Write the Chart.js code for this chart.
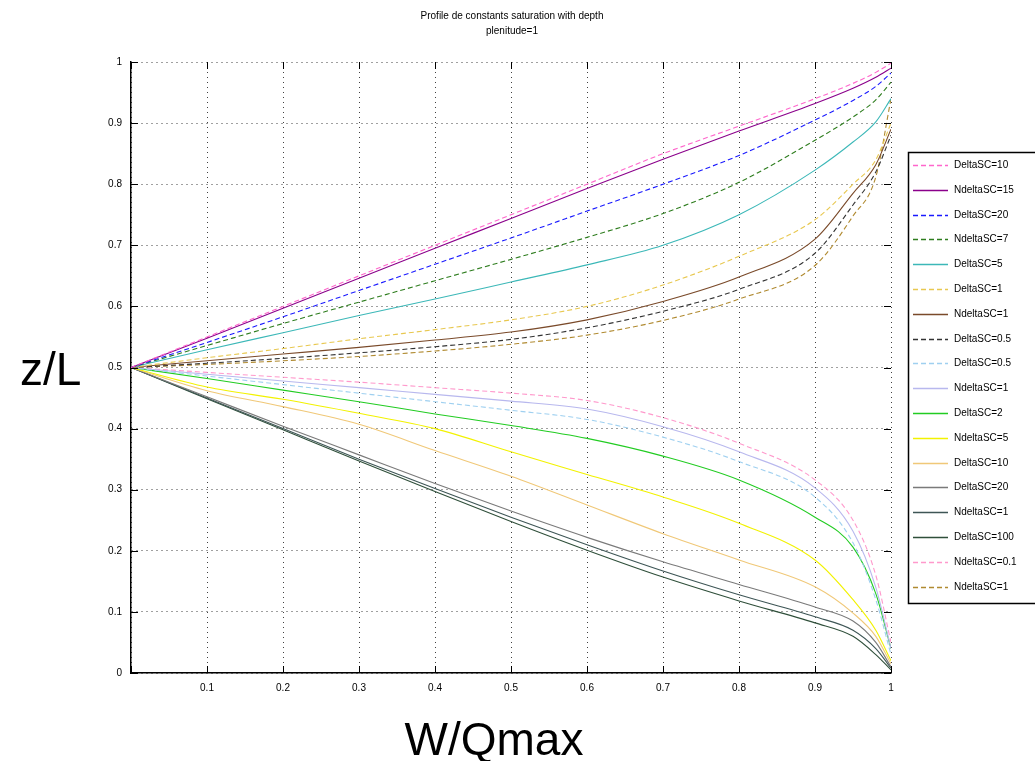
<!DOCTYPE html>
<html>
<head>
<meta charset="utf-8">
<script src="https://cdn.jsdelivr.net/npm/chart.js@4.4.0/dist/chart.umd.min.js"></script>
<style>
html, body { margin: 0; padding: 0; background: #fff; }
#wrap { position: relative; width: 1035px; height: 761px; }
</style>
</head>
<body>
<div id="wrap"><canvas id="chart" width="1035" height="761"></canvas></div>
<script>
// values, x = W/Qmax
var xValues = [0, 0.1, 0.2, 0.3, 0.4, 0.5, 0.6, 0.7, 0.8, 0.9, 0.95, 0.98, 1];

var titleLines = ['Profile de constants saturation with depth', 'plenitude=1'];

var seriesNames = [
    'DeltaSC=10', 'NdeltaSC=15', 'DeltaSC=20', 'NdeltaSC=7', 'DeltaSC=5', 'DeltaSC=1',
    'NdeltaSC=1', 'DeltaSC=0.5', 'DeltaSC=0.5', 'NdeltaSC=1', 'DeltaSC=2', 'NdeltaSC=5',
    'DeltaSC=10', 'DeltaSC=20', 'NdeltaSC=1', 'DeltaSC=100', 'NdeltaSC=0.1', 'NdeltaSC=1'
];
var seriesColors = [
    '#ff66cc', '#8b008b', '#1a1aff', '#2e7d1e', '#3cb8b8', '#e8c850',
    '#7a4a2a', '#333333', '#9fd0f0', '#b8b8ee', '#22cc22', '#f2f200',
    '#f0c878', '#7a7a7a', '#3e5656', '#2f4f3a', '#ff99cc', '#b08a30'
];
var seriesDashed = [true, false, true, true, false, true,
    false, true, true, false, false, false,
    false, false, false, false, true, true];

// upper family
var s01 = [0.5, 0.55, 0.6, 0.65, 0.7, 0.75, 0.8, 0.85, 0.895, 0.94, 0.965, 0.983, 0.998];
var s02 = [0.5, 0.548, 0.597, 0.646, 0.695, 0.744, 0.793, 0.841, 0.887, 0.932, 0.957, 0.975, 0.99];
var s03 = [0.5, 0.541, 0.583, 0.626, 0.669, 0.712, 0.756, 0.8, 0.847, 0.905, 0.937, 0.96, 0.982];
var s04 = [0.5, 0.536, 0.572, 0.607, 0.642, 0.677, 0.713, 0.752, 0.803, 0.872, 0.91, 0.938, 0.967];
var s05 = [0.5, 0.529, 0.557, 0.585, 0.612, 0.64, 0.668, 0.7, 0.75, 0.823, 0.869, 0.902, 0.94];
var s06 = [0.5, 0.516, 0.531, 0.547, 0.562, 0.578, 0.6, 0.635, 0.682, 0.742, 0.8, 0.84, 0.9];
var s07 = [0.5, 0.511, 0.522, 0.533, 0.545, 0.558, 0.578, 0.608, 0.648, 0.71, 0.785, 0.832, 0.89];
var s08 = [0.5, 0.507, 0.515, 0.524, 0.534, 0.546, 0.565, 0.592, 0.628, 0.687, 0.766, 0.82, 0.88];
// lower family
var s09 = [0.5, 0.486, 0.472, 0.458, 0.444, 0.43, 0.415, 0.386, 0.346, 0.288, 0.213, 0.12, 0.03];
var s10 = [0.5, 0.489, 0.478, 0.467, 0.456, 0.445, 0.432, 0.403, 0.362, 0.303, 0.232, 0.14, 0.04];
var s11 = [0.5, 0.482, 0.463, 0.444, 0.424, 0.405, 0.384, 0.355, 0.316, 0.255, 0.206, 0.13, 0.04];
var s12 = [0.5, 0.468, 0.448, 0.425, 0.4, 0.362, 0.325, 0.288, 0.245, 0.185, 0.12, 0.07, 0.02];
var s13 = [0.5, 0.462, 0.436, 0.407, 0.364, 0.322, 0.275, 0.228, 0.185, 0.141, 0.098, 0.06, 0.015];
var s14 = [0.5, 0.452, 0.404, 0.357, 0.31, 0.265, 0.222, 0.182, 0.145, 0.108, 0.085, 0.05, 0.01];
var s15 = [0.5, 0.45, 0.4, 0.35, 0.302, 0.255, 0.21, 0.167, 0.128, 0.092, 0.07, 0.04, 0.008];
var s16 = [0.5, 0.449, 0.398, 0.347, 0.297, 0.248, 0.201, 0.157, 0.118, 0.082, 0.06, 0.03, 0.005];
var s17 = [0.5, 0.492, 0.484, 0.476, 0.467, 0.458, 0.446, 0.418, 0.376, 0.316, 0.25, 0.16, 0.05];
var s18 = [0.5, 0.505, 0.511, 0.518, 0.527, 0.538, 0.553, 0.577, 0.612, 0.667, 0.748, 0.812, 0.94];

var seriesValues = [s01, s02, s03, s04, s05, s06, s07, s08, s09,
    s10, s11, s12, s13, s14, s15, s16, s17, s18];

var datasets = [];
for (var i = 0; i < seriesValues.length; i++) {
    var pts = [];
    for (var j = 0; j < xValues.length; j++) {
        pts.push({ x: xValues[j], y: seriesValues[i][j] });
    }
    datasets.push({
        label: seriesNames[i],
        data: pts,
        borderColor: seriesColors[i],
        borderWidth: 1.1,
        borderDash: seriesDashed[i] ? [5, 3] : [],
        pointRadius: 0,
        fill: false,
        cubicInterpolationMode: 'monotone'
    });
}

function fmtTick(v) {
    return String(Math.round(v * 10) / 10);
}

// matlab-ish decorations: inward ticks, title, big axis names, boxed legend
var decor = {
    id: 'decor',
    afterDraw: function(chart) {
        var ctx = chart.ctx, a = chart.chartArea;
        var xs = chart.scales.x, ys = chart.scales.y;
        ctx.save();

        ctx.strokeStyle = '#000';
        ctx.lineWidth = 1;
        ctx.beginPath();
        xs.ticks.forEach(function(t) {
            var px = Math.round(xs.getPixelForValue(t.value)) + 0.5;
            ctx.moveTo(px, a.bottom); ctx.lineTo(px, a.bottom - 7);
            ctx.moveTo(px, a.top); ctx.lineTo(px, a.top + 7);
        });
        ys.ticks.forEach(function(t) {
            var py = Math.round(ys.getPixelForValue(t.value)) + 0.5;
            ctx.moveTo(a.left, py); ctx.lineTo(a.left + 7, py);
            ctx.moveTo(a.right, py); ctx.lineTo(a.right - 7, py);
        });
        ctx.stroke();

        ctx.fillStyle = '#000';
        ctx.font = '10px "Liberation Sans", Arial, sans-serif';
        ctx.textAlign = 'center';
        ctx.textBaseline = 'middle';
        ctx.fillText(titleLines[0], 512, 16);
        ctx.fillText(titleLines[1], 512, 31);

        ctx.font = '46px "Liberation Sans", Arial, sans-serif';
        ctx.textBaseline = 'alphabetic';
        ctx.textAlign = 'left';
        ctx.fillText('z/L', 20, 385);
        ctx.textAlign = 'center';
        ctx.fillText('W/Qmax', 494, 755);

        // legend box
        var lx = 908, ly = 152, lw = 140, lh = 451;
        ctx.fillStyle = '#fff';
        ctx.fillRect(lx, ly, lw, lh);
        ctx.strokeStyle = '#000';
        ctx.lineWidth = 1.5;
        ctx.strokeRect(lx + 0.5, ly + 0.5, lw, lh);
        ctx.font = '10px "Liberation Sans", Arial, sans-serif';
        ctx.textAlign = 'left';
        ctx.textBaseline = 'middle';
        chart.data.datasets.forEach(function(ds, k) {
            var y = Math.round(165 + k * 24.8) + 0.5;
            ctx.strokeStyle = ds.borderColor;
            ctx.lineWidth = 1.5;
            ctx.setLineDash(ds.borderDash);
            ctx.beginPath();
            ctx.moveTo(913, y); ctx.lineTo(948, y);
            ctx.stroke();
            ctx.setLineDash([]);
            ctx.fillStyle = '#000';
            ctx.fillText(ds.label, 954, y);
        });
        ctx.restore();
    }
};

var ctx = document.getElementById('chart').getContext('2d');
var chart = new Chart(ctx, {
    type: 'line',
    data: { datasets: datasets },
    plugins: [decor],
    options: {
        responsive: false,
        animation: false,
        layout: { padding: { left: 0, top: 62, right: 144, bottom: 0 } },
        plugins: {
            legend: { display: false },
            title: { display: false },
            tooltip: { enabled: false }
        },
        scales: {
            x: {
                type: 'linear',
                min: 0,
                max: 1,
                afterFit: function(s) { s.height = 88; },
                ticks: {
                    stepSize: 0.1,
                    padding: 9,
                    color: '#000',
                    autoSkip: false,
                    maxRotation: 0,
                    font: { size: 10, family: '"Liberation Sans", Arial, sans-serif' },
                    callback: function(v) { return v === 0 ? '' : fmtTick(v); }
                },
                grid: { color: 'rgba(0,0,0,0.75)', lineWidth: 1, drawTicks: false },
                border: { color: '#000', width: 1.5, dash: [1, 4] }
            },
            y: {
                type: 'linear',
                min: 0,
                max: 1,
                afterFit: function(s) { s.width = 131; },
                ticks: {
                    stepSize: 0.1,
                    padding: 9,
                    color: '#000',
                    autoSkip: false,
                    font: { size: 10, family: '"Liberation Sans", Arial, sans-serif' },
                    callback: function(v) { return fmtTick(v); }
                },
                grid: { color: 'rgba(0,0,0,0.75)', lineWidth: 1, drawTicks: false },
                border: { color: '#000', width: 1.5, dash: [1, 4] }
            }
        }
    }
});
</script>
</body>
</html>
